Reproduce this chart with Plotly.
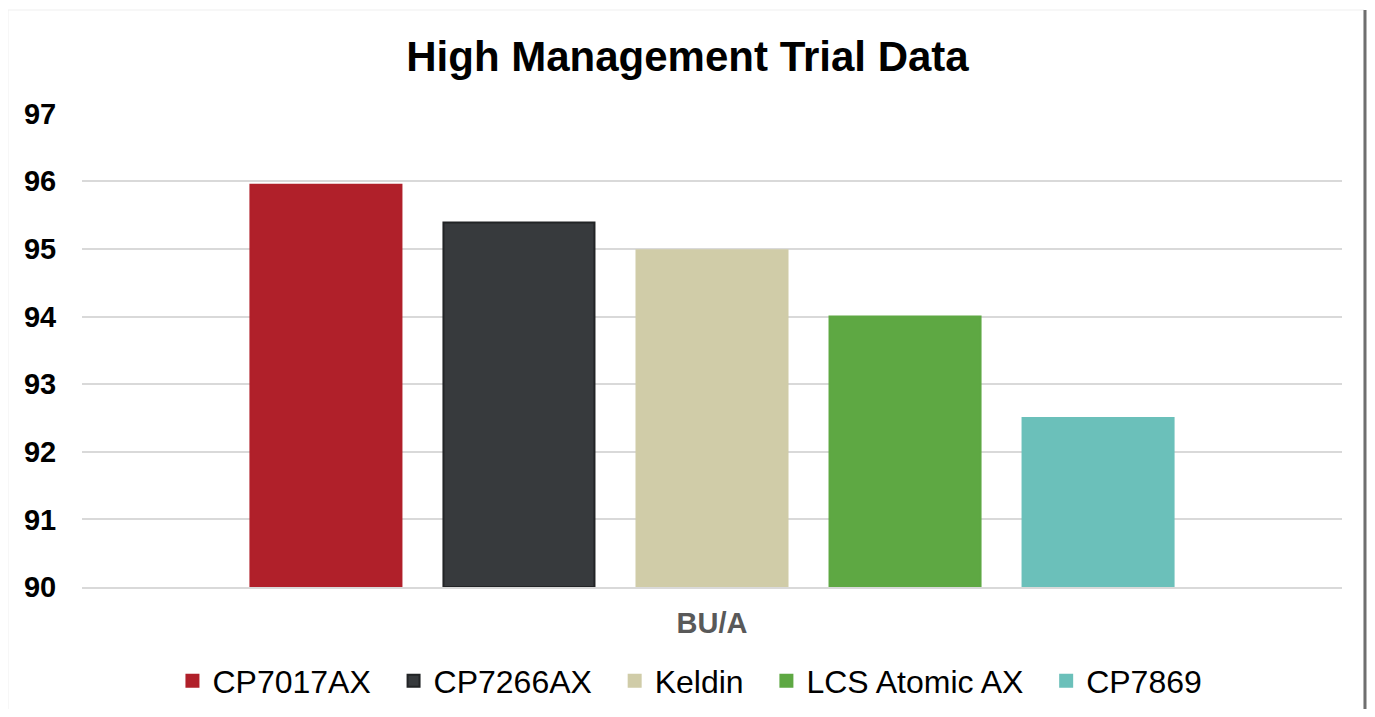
import plotly.graph_objects as go

category = ["BU/A"]
series_names = ["CP7017AX", "CP7266AX", "Keldin", "LCS Atomic AX", "CP7869"]
series_values = [95.95, 95.39, 94.98, 94.0, 92.5]
series_colors = ["#b0202a", "#373a3d", "#d0cca8", "#5ea843", "#6bc0ba"]
series_lines = ["#b0202a", "#222426", "#d0cca8", "#5ea843", "#6bc0ba"]
y_ticks = [90, 91, 92, 93, 94, 95, 96, 97]

NB = "\u00a0\u00a0"
fig = go.Figure()
for i, (name, val, col, lc) in enumerate(zip(series_names, series_values, series_colors, series_lines)):
    label = name + (NB if i < len(series_names) - 1 else "")
    fig.add_trace(go.Bar(
        x=category, y=[val - 90], base=90, name=label,
        marker=dict(color=col, line=dict(color=lc, width=2)),
        hovertemplate=name + ": %{y:.2f}<extra></extra>",
    ))

W, H = 1359, 701
L, R, T, B = 74, 25, 105, 122
PW, PH = W - L - R, H - T - B
fig.update_layout(
    width=W, height=H,
    paper_bgcolor="white", plot_bgcolor="white",
    margin=dict(l=L, r=R, t=T, b=B),
    barmode="group", bargap=0.234, bargroupgap=0.2176,
    title=dict(text="<b>High Management Trial Data</b>", x=0.5, xanchor="center",
               y=0.9315, yanchor="middle",
               font=dict(family="Liberation Sans, Arial", size=42, color="black")),
    font=dict(family="Liberation Sans, Arial", color="black"),
    showlegend=True,
    legend=dict(orientation="h", x=0.4825, xanchor="center",
                yref="container", y=0.04, yanchor="middle",
                font=dict(size=32, color="black"), itemwidth=30,
                traceorder="normal", itemclick=False),
    xaxis=dict(showgrid=False, showline=True, linecolor="#d9d9d9", linewidth=2,
               ticks="outside", ticklen=9, tickcolor="rgba(0,0,0,0)",
               tickfont=dict(size=29, color="#595959", family="Liberation Sans, Arial"),
               tickvals=category, ticktext=["<b>BU/A</b>"]),
    yaxis=dict(range=[90, 97.01], tickvals=y_ticks,
               ticktext=[f"<b>{t}</b>" for t in y_ticks],
               showgrid=True, gridcolor="#d9d9d9", gridwidth=2,
               zeroline=False, showline=False,
               ticks="outside", ticklen=19, tickcolor="rgba(0,0,0,0)",
               tickfont=dict(size=29, color="black")),
    shapes=[
        dict(type="rect", xref="paper", yref="paper",
             x0=-L/PW, x1=(W - 3 - L)/PW, y0=-(B + 20)/PH, y1=(PH + T - 2)/PH,
             line=dict(color="#efefef", width=1), layer="below"),
        dict(type="line", xref="paper", yref="paper",
             x0=(W - 2 - L)/PW, x1=(W - 2 - L)/PW, y0=-(B + 20)/PH, y1=(PH + T - 2)/PH,
             line=dict(color="#6f6f6f", width=3)),
    ],
)

fig.write_html("out.html")
